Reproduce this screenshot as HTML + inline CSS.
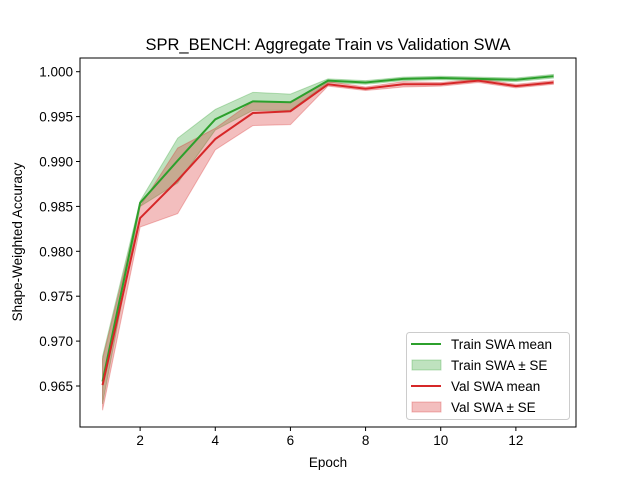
<!DOCTYPE html>
<html><head><meta charset="utf-8"><style>
body{margin:0;background:#fff;}
svg{display:block;font-family:"Liberation Sans","DejaVu Sans",sans-serif;}
</style></head><body>
<svg id="chart" width="640" height="480" viewBox="0 0 640 480">
<rect width="640" height="480" fill="#fff"/>
<g id="bands"></g><g id="lines"></g><g id="axes"></g>
<text x="328" y="50" text-anchor="middle" font-size="16.5">SPR_BENCH: Aggregate Train vs Validation SWA</text>
<text x="328" y="467" text-anchor="middle" font-size="13.5">Epoch</text>
<text transform="translate(22,242) rotate(-90)" text-anchor="middle" font-size="13.5">Shape-Weighted Accuracy</text>
<g>
<rect x="406.5" y="332.5" width="163" height="87" rx="3" fill="#fff" fill-opacity="0.8" stroke="#ccc"/>
<line x1="411" y1="344" x2="441" y2="344" stroke="#2ca02c" stroke-width="2"/>
<text x="451" y="349" font-size="13.5">Train SWA mean</text>
<rect x="412" y="360" width="29" height="10" fill="#2ca02c" fill-opacity="0.3" stroke="#2ca02c" stroke-opacity="0.3"/>
<text x="451" y="370" font-size="13.5">Train SWA ± SE</text>
<line x1="411" y1="386" x2="441" y2="386" stroke="#d62728" stroke-width="2"/>
<text x="451" y="391" font-size="13.5">Val SWA mean</text>
<rect x="412" y="402" width="29" height="10" fill="#d62728" fill-opacity="0.3" stroke="#d62728" stroke-opacity="0.3"/>
<text x="451" y="412" font-size="13.5">Val SWA ± SE</text>
</g>
</svg>
<script>
const epochs=[1,2,3,4,5,6,7,8,9,10,11,12,13];
const trainMean=[0.9655,0.9854,0.9901,0.9947,0.9967,0.9966,0.9990,0.9988,0.9992,0.9993,0.9992,0.9991,0.9995];
const trainLo=[0.9630,0.9850,0.9876,0.9935,0.9957,0.9957,0.9988,0.9986,0.9990,0.9991,0.9990,0.9989,0.9993];
const trainHi=[0.9683,0.9856,0.9926,0.9958,0.9977,0.9975,0.9992,0.9990,0.9994,0.9995,0.9994,0.9993,0.9997];
const valMean=[0.9651,0.9837,0.9879,0.9925,0.9954,0.9956,0.9986,0.9981,0.9986,0.9986,0.9990,0.9984,0.9988];
const valLo=[0.9623,0.9827,0.9842,0.9913,0.9940,0.9941,0.9984,0.9979,0.9983,0.9984,0.9988,0.9982,0.9986];
const valHi=[0.9680,0.9850,0.9915,0.9937,0.9967,0.9966,0.9989,0.9983,0.9989,0.9988,0.9992,0.9986,0.9990];
const xTicks=[2,4,6,8,10,12];
const yTicks=[0.965,0.970,0.975,0.980,0.985,0.990,0.995,1.000];
const L=80,R=576,T=58,B=427;
const xs=e=>L+(e-0.4)*(R-L)/13.2;
const ys=v=>71.7+(1-v)/0.005*44.9;
const NS='http://www.w3.org/2000/svg';
function mk(tag,attrs,parent){const el=document.createElementNS(NS,tag);for(const k in attrs)el.setAttribute(k,attrs[k]);document.getElementById(parent).appendChild(el);return el;}
function band(lo,hi,color,name){
 let d='M'+epochs.map((e,i)=>xs(e)+','+ys(hi[i])).join('L');
 d+='L'+epochs.map((e,i)=>xs(e)+','+ys(lo[i])).reverse().join('L')+'Z';
 const p=mk('path',{d:d,fill:color,'fill-opacity':0.3,stroke:color,'stroke-opacity':0.3},'bands');
 
 
}
function line(m,color,name){
 const p=mk('polyline',{points:epochs.map((e,i)=>xs(e)+','+ys(m[i])).join(' '),fill:'none',stroke:color,'stroke-width':2},'lines');
 
 
}
band(trainLo,trainHi,'#2ca02c','train-se-band');
band(valLo,valHi,'#d62728','val-se-band');
line(trainMean,'#2ca02c','train-mean-line');
line(valMean,'#d62728','val-mean-line');
const fr=mk('rect',{x:L,y:T,width:R-L,height:B-T,fill:'none',stroke:'#000','stroke-width':1},'axes');


xTicks.forEach(t=>{
 const x=xs(t);
 mk('line',{x1:x,y1:B,x2:x,y2:B+4,stroke:'#000'},'axes');
 const tx=mk('text',{x:x,y:B+18,'text-anchor':'middle','font-size':13.5},'axes');
 tx.textContent=t;
 
 
});
yTicks.forEach(t=>{
 const y=ys(t);
 mk('line',{x1:L-4,y1:y,x2:L,y2:y,stroke:'#000'},'axes');
 const tx=mk('text',{x:L-7,y:y+5,'text-anchor':'end','font-size':13.5},'axes');
 tx.textContent=t.toFixed(3);
 
 
});
</script>
</body></html>
